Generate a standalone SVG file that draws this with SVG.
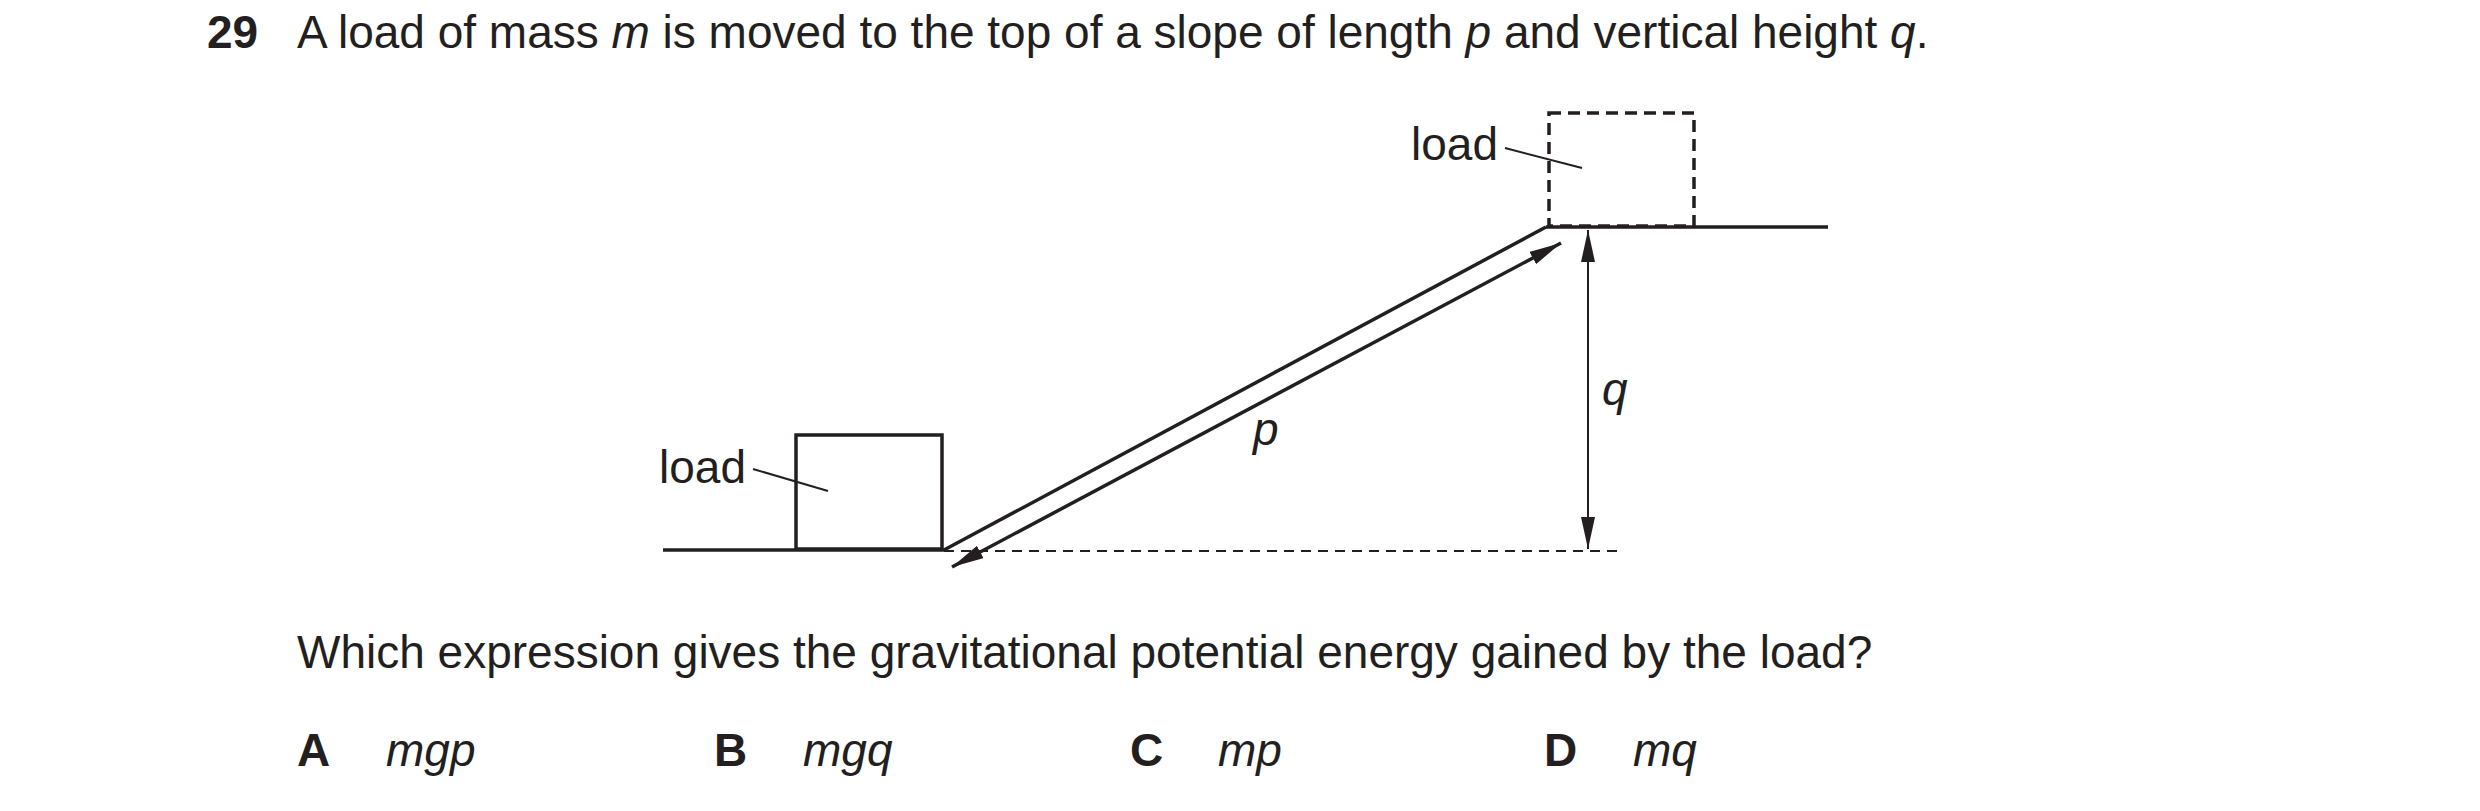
<svg xmlns="http://www.w3.org/2000/svg" width="2480" height="811" viewBox="0 0 2480 811">
<defs>
<marker id="ah" viewBox="0 0 32 14" refX="32" refY="7" markerWidth="32" markerHeight="14" markerUnits="userSpaceOnUse" orient="auto-start-reverse"><path d="M0,0 L32,7 L0,14 Z" fill="#231f20"/></marker>
<style>
text{font-family:"Liberation Sans",Arial,sans-serif;font-size:46px;fill:#231f20}
.b{font-weight:bold}
.i{font-style:italic}
.ln{stroke:#231f20;stroke-width:3.5;fill:none}
.th{stroke:#231f20;stroke-width:2;fill:none}
</style>
</defs>
<rect width="2480" height="811" fill="#fff"/>
<text x="207" y="48" class="b">29</text>
<text x="297" y="48">A load of mass <tspan class="i">m</tspan> is moved to the top of a slope of length <tspan class="i">p</tspan> and vertical height <tspan class="i">q</tspan>.</text>
<g id="ground">
<line class="ln" x1="663" y1="550" x2="944" y2="550"/>
<line class="ln" x1="944" y1="550" x2="1546" y2="227"/>
<line class="ln" x1="1546" y1="227" x2="1828" y2="227"/>
<line class="th" x1="944" y1="551" x2="1620" y2="551" stroke-dasharray="10,7"/>
</g>
<g id="load-bottom">
<rect class="ln" x="796" y="435" width="146" height="114"/>
<text x="659" y="483" font-size="44">load</text>
<line class="th" x1="753" y1="469" x2="828" y2="491"/>
</g>
<g id="load-top">
<rect class="ln" x="1549" y="113" width="145" height="113" stroke-dasharray="12,7"/>
<text x="1411" y="160" font-size="44">load</text>
<line class="th" x1="1505" y1="148" x2="1582" y2="168"/>
</g>
<g id="connectors">
<line class="ln" x1="952" y1="567" x2="1561" y2="243" marker-start="url(#ah)" marker-end="url(#ah)"/>
<line class="th" x1="1588" y1="230" x2="1588" y2="549" marker-start="url(#ah)" marker-end="url(#ah)"/>
</g>
<text x="1253" y="445" class="i">p</text>
<text x="1602" y="405" class="i">q</text>
<text x="297" y="668">Which expression gives the gravitational potential energy gained by the load?</text>
<text x="297" y="766" class="b">A</text><text x="386" y="766" class="i">mgp</text>
<text x="714" y="766" class="b">B</text><text x="803" y="766" class="i">mgq</text>
<text x="1130" y="766" class="b">C</text><text x="1218" y="766" class="i">mp</text>
<text x="1544" y="766" class="b">D</text><text x="1633" y="766" class="i">mq</text>
</svg>
